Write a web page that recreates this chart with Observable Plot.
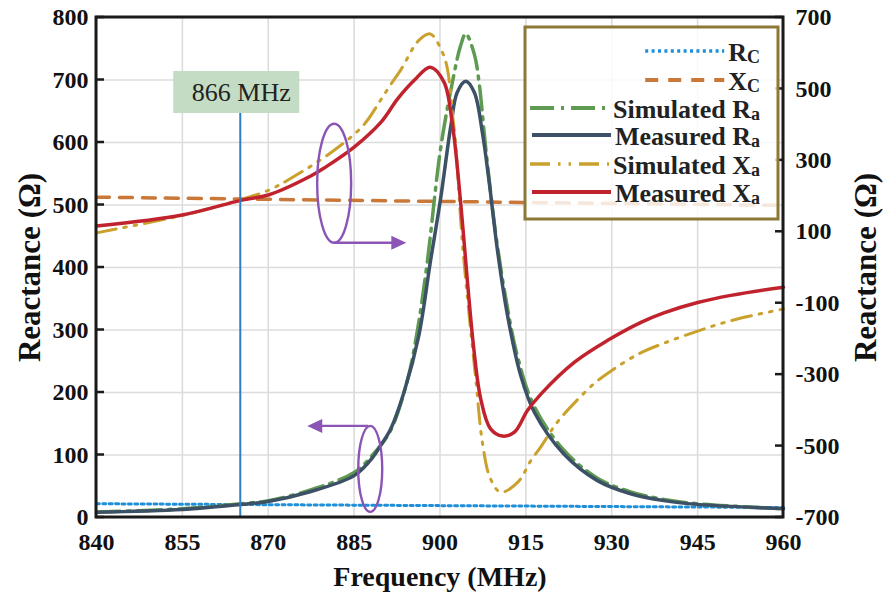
<!DOCTYPE html>
<html><head><meta charset="utf-8">
<script src="https://cdn.jsdelivr.net/npm/d3@7"></script>
<script src="https://cdn.jsdelivr.net/npm/@observablehq/plot@0.6"></script>
<style>body{margin:0;background:#fff}</style>
</head><body><div id="chart"></div>
<script>
// ---- tick labels ----
const xTicks = [840, 855, 870, 885, 900, 915, 930, 945, 960];
const leftTicks = [0, 100, 200, 300, 400, 500, 600, 700, 800];
const rightTicks = [-700, -500, -300, -100, 100, 300, 500, 700];

// ---- series (frequency in MHz, value in ohm) ----
// left axis
const rcFreq = [840, 900, 960];
const rcVal  = [22, 19, 16];
const simRaFreq = [840, 855, 865.2, 870, 877, 885, 888.4, 891.3, 894.2, 895.9, 897.7, 900.1, 902.2, 903.6, 904.5, 906, 906.8, 908, 909.7, 911.5, 913.5, 916.4, 921.6, 927.5, 933.3, 939.1, 945, 960];
const simRaVal  = [9, 14, 22, 27, 43, 72, 102, 138, 216, 291, 403, 590, 698, 755, 774, 741, 698, 590, 456, 350, 259, 179, 108, 63, 41, 29, 22, 14];
const measRaFreq = [840, 855, 865.2, 870, 876.8, 885, 888.4, 889.6, 891.3, 893.7, 896.3, 898.3, 900.1, 901.9, 903, 904.5, 906, 907.4, 908.6, 910, 911.8, 914.1, 916.5, 921.6, 927.5, 933.3, 939.1, 945, 960];
const measRaVal  = [8.5, 12.8, 20.8, 25.6, 40, 67, 98, 115, 140, 200, 291, 408, 510, 627, 680, 698, 680, 616, 536, 430, 323, 227, 168, 102, 59, 38, 27, 21, 14];
// right axis
const xcFreq = [840, 900, 960];
const xcVal  = [197, 185, 174];
const simXaFreq = [840, 855, 865.2, 870, 873.9, 881.4, 886.6, 889.6, 891.3, 893.1, 896.3, 898.3, 900.4, 901.3, 902.2, 902.7, 903.9, 905.1, 906.3, 907.4, 908.8, 910.6, 913.6, 915.9, 917.7, 920.3, 923.2, 927, 930.2, 934.8, 939.1, 945, 950.8, 960];
const simXaVal  = [97, 146, 190, 216, 249, 327, 398, 468, 510, 552, 636, 654, 603, 556, 426, 351, 71, -134, -321, -489, -591, -629, -601, -540, -500, -437, -384, -324, -286, -241, -212, -178, -149, -116];
const measXaFreq = [840, 855, 865.2, 870, 877.5, 880, 885, 889.7, 892.6, 895.5, 898.3, 900.7, 902.2, 903.6, 904.8, 905.9, 907.1, 908.8, 910.9, 913, 915.3, 917.7, 923.5, 929.3, 935.2, 939.1, 945, 950.8, 960];
const measXaVal  = [116, 147, 188, 203, 257, 281, 337, 407, 472, 524, 561, 519, 397, 183, -41, -227, -367, -451, -472, -461, -400, -353, -265, -204, -153, -127, -98, -78, -55];

// ---- annotations ----
const markerFreq = 865.2;           // where the "866 MHz" marker sits on the picture
const markerLabel = "866 MHz";
const markerLabelY = 680;           // left-axis units
const rightGroupEllipse = {f: 881.6, v: 534, tipF: 894.2};
const leftGroupEllipse  = {f: 887.9, v: 77,  tipF: 876.9};

// right axis (−700..700) mapped onto left scale (0..800)
const toL = v => (v + 700) * 800 / 1400;
const fromL = v => v * 1400 / 800 - 700;

const series = [
  {name: "R", sub: "C", f: rcFreq, v: rcVal, axis: "left", color: "#1e8fd8", w: 3, dash: "3,3.4"},
  {name: "X", sub: "C", f: xcFreq, v: xcVal, axis: "right", color: "#c9783a", w: 3.5, dash: "13,10"},
  {name: "Simulated R", sub: "a", f: simRaFreq, v: simRaVal, axis: "left", color: "#5f9a52", w: 3.5, dash: "24,7,3,7"},
  {name: "Measured R", sub: "a", f: measRaFreq, v: measRaVal, axis: "left", color: "#3c5166", w: 3.5, dash: null},
  {name: "Simulated X", sub: "a", f: simXaFreq, v: simXaVal, axis: "right", color: "#c9a12c", w: 3, dash: "20,8,2.5,8,2.5,8"},
  {name: "Measured X", sub: "a", f: measXaFreq, v: measXaVal, axis: "right", color: "#c1232e", w: 3.5, dash: null}
];
const rowsOf = s => s.f.map((f, i) => ({f, v: s.axis === "right" ? toL(s.v[i]) : s.v[i]}));

const font = "'Liberation Serif', 'Times New Roman', serif";

const chart = Plot.plot({
  width: 883, height: 595,
  marginLeft: 96, marginRight: 100, marginTop: 17, marginBottom: 78,
  style: {fontFamily: font, fontSize: "24px", fontWeight: "bold", color: "#111", background: "#fff", overflow: "visible"},
  x: {domain: [840, 960]},
  y: {domain: [0, 800]},
  marks: [
    Plot.gridX(xTicks, {stroke: "#dcdcdc", strokeOpacity: 1, strokeWidth: 1.6}),
    Plot.gridY(leftTicks, {stroke: "#dcdcdc", strokeOpacity: 1, strokeWidth: 1.6}),
    ...series.map(s => Plot.line(rowsOf(s), {x: "f", y: "v", stroke: s.color, strokeWidth: s.w, strokeDasharray: s.dash, curve: "catmull-rom"})),
    Plot.axisX({ticks: xTicks, tickSize: 0, tickPadding: 15, tickFormat: d => String(d), label: null}),
    Plot.axisY({ticks: leftTicks, anchor: "left", tickSize: 0, tickPadding: 8, tickFormat: d => String(d), label: null}),
    Plot.axisY({ticks: rightTicks.map(toL), anchor: "right", tickSize: 0, tickPadding: 12, tickFormat: d => String(Math.round(fromL(d))), label: null}),
    Plot.text(["Frequency (MHz)"], {frameAnchor: "bottom", dy: 60, text: d => d, fontSize: 28, fontWeight: "bold", lineAnchor: "middle", textAnchor: "middle"}),
    Plot.text(["Reactance (\u03A9)"], {frameAnchor: "left", dx: -66, rotate: -90, text: d => d, fontSize: 31, fontWeight: "bold", lineAnchor: "middle", textAnchor: "middle"}),
    Plot.text(["Reactance (\u03A9)"], {frameAnchor: "right", dx: 83, rotate: -90, text: d => d, fontSize: 31, fontWeight: "bold", lineAnchor: "middle", textAnchor: "middle"})
  ]
});
document.getElementById("chart").appendChild(chart);

// ---- annotations drawn with the plot's scales ----
const xs = chart.scale("x"), ys = chart.scale("y");
const X = v => xs.apply(v), Y = v => ys.apply(v);
const svg = d3.select(chart);
const [x0, x1] = [X(840), X(960)];
const [yb, yt] = [Y(0), Y(800)];

// 866 MHz marker
const ann = svg.append("g");
const lx = X(markerFreq), ly = Y(markerLabelY);
ann.append("line").attr("x1", lx).attr("x2", lx).attr("y1", yb).attr("y2", ly + 21)
  .attr("stroke", "#2b7fc7").attr("stroke-width", 2);
ann.append("rect").attr("x", lx - 67).attr("y", ly - 21).attr("width", 126).attr("height", 42)
  .attr("fill", "#c3dcc3");
ann.append("text").attr("x", lx + 1).attr("y", ly + 9).attr("text-anchor", "middle")
  .attr("font-family", font).attr("font-weight", "normal").attr("font-size", 26).attr("fill", "#222")
  .text(markerLabel);

// ellipses + arrows
const purple = "#8b55b5";
function head(tx, ty, dir) {
  const L = 15, H = 7;
  return `M${tx},${ty} L${tx - dir * L},${ty - H} L${tx - dir * L},${ty + H} Z`;
}
{
  const cx = X(rightGroupEllipse.f), cy = Y(rightGroupEllipse.v), rx = 17, ry = 59.5;
  ann.append("ellipse").attr("cx", cx).attr("cy", cy).attr("rx", rx).attr("ry", ry)
    .attr("fill", "none").attr("stroke", purple).attr("stroke-width", 2.4);
  const tip = X(rightGroupEllipse.tipF);
  ann.append("line").attr("x1", cx).attr("x2", tip - 12).attr("y1", cy + ry).attr("y2", cy + ry)
    .attr("stroke", purple).attr("stroke-width", 2.4);
  ann.append("path").attr("d", head(tip, cy + ry, 1)).attr("fill", purple);
}
{
  const cx = X(leftGroupEllipse.f), cy = Y(leftGroupEllipse.v), rx = 12, ry = 43;
  ann.append("ellipse").attr("cx", cx).attr("cy", cy).attr("rx", rx).attr("ry", ry)
    .attr("fill", "none").attr("stroke", purple).attr("stroke-width", 2.4);
  const tip = X(leftGroupEllipse.tipF);
  ann.append("line").attr("x1", cx - 2).attr("x2", tip + 12).attr("y1", cy - ry).attr("y2", cy - ry)
    .attr("stroke", purple).attr("stroke-width", 2.4);
  ann.append("path").attr("d", head(tip, cy - ry, -1)).attr("fill", purple);
}

// frame and inward ticks
svg.append("rect").attr("x", x0).attr("y", yt).attr("width", x1 - x0).attr("height", yb - yt)
  .attr("fill", "none").attr("stroke", "#1a1a1a").attr("stroke-width", 3);
leftTicks.forEach(t => svg.append("line").attr("x1", x0).attr("x2", x0 + 8).attr("y1", Y(t)).attr("y2", Y(t))
  .attr("stroke", "#1a1a1a").attr("stroke-width", 2.5));
rightTicks.forEach(t => svg.append("line").attr("x1", x1 - 8).attr("x2", x1).attr("y1", Y(toL(t))).attr("y2", Y(toL(t)))
  .attr("stroke", "#1a1a1a").attr("stroke-width", 2.5));

// legend
const lg = svg.append("g");
lg.append("rect").attr("x", 525).attr("y", 27).attr("width", 253).attr("height", 192)
  .attr("fill", "#fff").attr("fill-opacity", 0.82).attr("stroke", "#8c7838").attr("stroke-width", 3);
const baselines = [61, 90, 118, 145, 174, 202];
const textEnd = 760;
series.forEach((s, i) => {
  const t = lg.append("text").attr("x", textEnd).attr("y", baselines[i]).attr("text-anchor", "end")
    .attr("font-family", font).attr("font-weight", "bold").attr("font-size", 26).attr("fill", "#222");
  t.append("tspan").text(s.name);
  t.append("tspan").attr("font-size", 18).attr("dy", 2).text(s.sub);
  const len = t.node().getComputedTextLength();
  const end = textEnd - len - 4;
  const ln = lg.append("line").attr("x1", end - 79).attr("x2", end)
    .attr("y1", baselines[i] - 10).attr("y2", baselines[i] - 10)
    .attr("stroke", s.color).attr("stroke-width", s.w + 0.5);
  if (s.dash) ln.attr("stroke-dasharray", s.dash);
});
</script>
</body></html>
